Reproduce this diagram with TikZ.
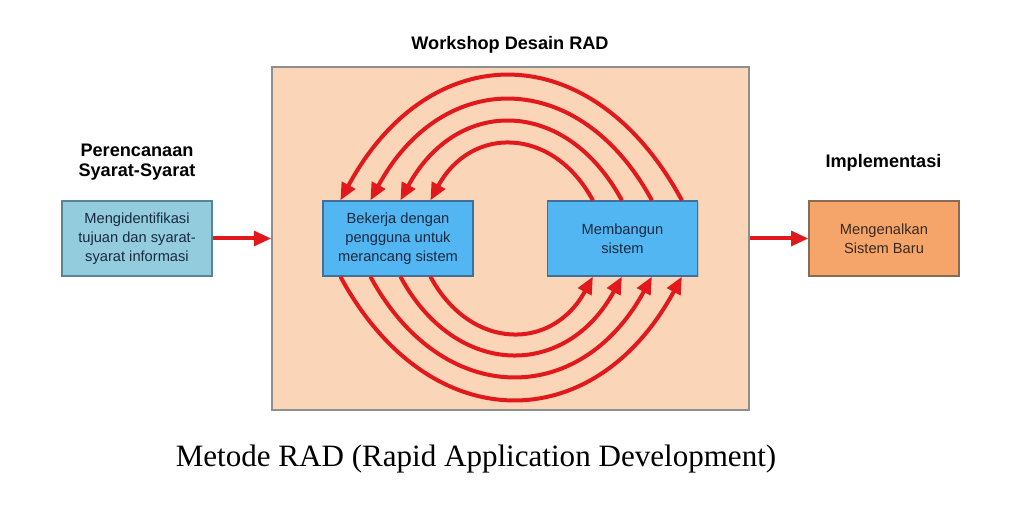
\documentclass[tikz,border=0pt]{standalone}
\usepackage{fontspec}
\setmainfont{Liberation Serif}
\newfontfamily\arialf{Liberation Sans}
\usetikzlibrary{arrows.meta,calc,shadows}
\definecolor{peach}{HTML}{FBD5B7}
\definecolor{peachbd}{HTML}{8F8F8F}
\definecolor{aquab}{HTML}{93CDDD}
\definecolor{aquabd}{HTML}{5A8299}
\definecolor{skyb}{HTML}{52B6F2}
\definecolor{skybd}{HTML}{3F6F9A}
\definecolor{orangeb}{HTML}{F6A56A}
\definecolor{orangebd}{HTML}{8A6A50}
\definecolor{arcred}{HTML}{E2191C}
\definecolor{bluetxt}{HTML}{1A2A40}
\definecolor{orangetxt}{HTML}{3A2A20}
\begin{document}
\begin{tikzpicture}[x=0.75pt,y=-0.75pt,
  boxbase/.style={rectangle, minimum width=112.5pt, minimum height=56.25pt,
    inner sep=2pt, align=center, line width=0.9pt,
    font=\arialf\fontsize{11}{14.2}\selectfont,
    drop shadow={opacity=0.25, shadow xshift=1pt, shadow yshift=-1pt}},
  leftbox/.style={boxbase, fill=aquab, draw=aquabd, text=bluetxt},
  innerbox/.style={boxbase, fill=skyb, draw=skybd, text=bluetxt},
  rightbox/.style={boxbase, fill=orangeb, draw=orangebd, text=orangetxt},
  bigrect/.style={rectangle, minimum width=357.75pt, minimum height=257.25pt,
    fill=peach, draw=peachbd, line width=1.1pt},
  heading/.style={font=\arialf\bfseries\fontsize{13.6}{15}\selectfont, align=center, text=black},
  redarc/.style={draw=arcred, line width=3pt, -{Triangle[length=13pt,width=11pt]}},
  caption/.style={font=\fontsize{23.3}{28}\selectfont, anchor=base, text=black}
]
\fill[white] (0,0) rectangle (1026,513);
\useasboundingbox (0,0) rectangle (1026,513);

\node[bigrect] (big) at (510.5,238.5) {};
\node[heading] (title) at (510,45) {Workshop Desain RAD};
\node[heading] (h1) at (137,162) {Perencanaan\\Syarat-Syarat};
\node[heading] (h2) at (883.5,163) {Implementasi};

\node[leftbox] (lb) at (137,238.5) {Mengidentifikasi\\tujuan dan syarat-\\syarat informasi};
\node[innerbox] (L) at (398,238.5) {Bekerja dengan\\pengguna untuk\\merancang sistem};
\node[innerbox] (R) at (622.5,238.5) {Membangun\\sistem};
\node[rightbox] (rb) at (884,238.5) {Mengenalkan\\Sistem Baru};

\draw[redarc] (lb.east) -- (big.west);
\draw[redarc] (big.east) -- (rb.west);

% top arcs: from R to L
\draw[redarc] ($(R.north west)+(135,0)$) .. controls +(-89.4,-165.3) and +(89.4,-165.3) .. ($(L.north west)+(18,0)$);
\draw[redarc] ($(R.north west)+(105,0)$) .. controls +(-72.1,-133.3) and +(72.1,-133.3) .. ($(L.north west)+(48,0)$);
\draw[redarc] ($(R.north west)+(75,0)$) .. controls +(-56.2,-104) and +(56.2,-104) .. ($(L.north west)+(78,0)$);
\draw[redarc] ($(R.north west)+(46,0)$) .. controls +(-40.4,-74.7) and +(40.4,-74.7) .. ($(L.north west)+(108,0)$);

% bottom arcs: from L to R
\draw[redarc] ($(L.south west)+(18,0)$) .. controls +(87.9,162.7) and +(-87.9,162.7) .. ($(R.south west)+(135,0)$);
\draw[redarc] ($(L.south west)+(48,0)$) .. controls +(71.4,132) and +(-71.4,132) .. ($(R.south west)+(105,0)$);
\draw[redarc] ($(L.south west)+(78,0)$) .. controls +(55.5,102.7) and +(-55.5,102.7) .. ($(R.south west)+(75,0)$);
\draw[redarc] ($(L.south west)+(108,0)$) .. controls +(40.4,74.7) and +(-40.4,74.7) .. ($(R.south west)+(46,0)$);

\node[caption] (cap) at (476,467) {Metode RAD (Rapid Application Development)};
\end{tikzpicture}
\end{document}
